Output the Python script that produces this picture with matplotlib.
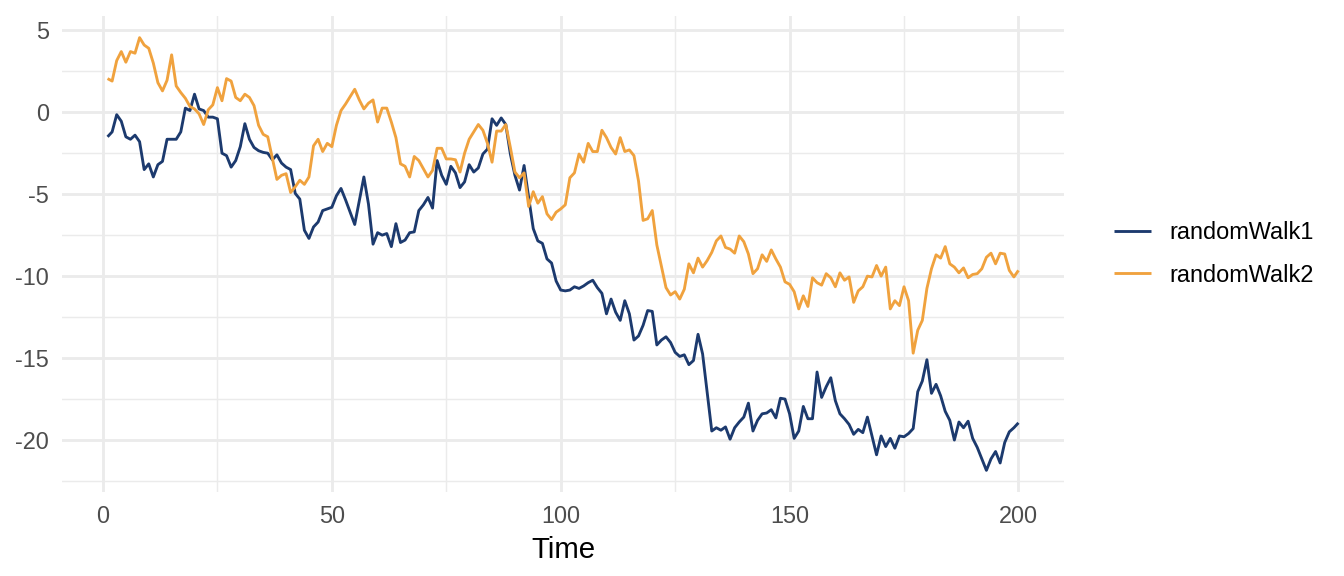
import matplotlib
matplotlib.use("Agg")
import matplotlib.pyplot as plt
from matplotlib.ticker import MultipleLocator
import numpy as np

time = list(range(1, 201))

random_walk1 = [
    -1.5, -1.2, -0.15, -0.55, -1.5, -1.65, -1.4, -1.8, -3.5, -3.15,
    -3.95, -3.2, -3.0, -1.65, -1.65, -1.65, -1.2, 0.25, 0.1, 1.1,
    0.2, 0.1, -0.3, -0.3, -0.4, -2.5, -2.65, -3.35, -2.95, -2.1,
    -0.7, -1.65, -2.15, -2.35, -2.45, -2.5, -2.9, -2.6, -3.1, -3.35,
    -3.5, -4.95, -5.3, -7.2, -7.7, -7.0, -6.7, -6.0, -5.9, -5.8,
    -5.1, -4.65, -5.35, -6.1, -6.85, -5.4, -3.95, -5.6, -8.05, -7.35,
    -7.5, -7.4, -8.2, -6.8, -7.95, -7.8, -7.35, -7.3, -6.0, -5.65,
    -5.2, -5.85, -2.95, -3.85, -4.4, -3.3, -3.7, -4.6, -4.25, -3.2,
    -3.65, -3.4, -2.55, -2.25, -0.4, -0.8, -0.35, -0.75, -2.55, -3.85,
    -4.75, -3.25, -5.2, -7.1, -7.85, -8.0, -8.95, -9.2, -10.3, -10.85,
    -10.9, -10.85, -10.65, -10.75, -10.6, -10.4, -10.25, -10.7, -11.05, -12.3,
    -11.4, -12.2, -12.7, -11.5, -12.3, -13.9, -13.65, -13.0, -12.1, -12.15,
    -14.2, -13.9, -13.7, -14.05, -14.65, -14.9, -14.8, -15.4, -15.15, -13.55,
    -14.75, -17.1, -19.45, -19.25, -19.4, -19.2, -19.95, -19.25, -18.9, -18.6,
    -17.75, -19.45, -18.8, -18.4, -18.35, -18.15, -18.65, -17.45, -17.5, -18.4,
    -19.9, -19.45, -17.95, -18.7, -18.7, -15.85, -17.4, -16.75, -16.2, -17.6,
    -18.4, -18.7, -19.05, -19.65, -19.35, -19.55, -18.6, -19.75, -20.9, -19.75,
    -20.4, -19.9, -20.5, -19.75, -19.8, -19.6, -19.3, -17.05, -16.4, -15.1,
    -17.15, -16.6, -17.3, -18.25, -18.8, -20.0, -18.9, -19.25, -18.85, -19.9,
    -20.45, -21.15, -21.85, -21.15, -20.7, -21.4, -20.15, -19.5, -19.25, -18.95,
]

random_walk2 = [
    2.05, 1.9, 3.15, 3.7, 3.05, 3.7, 3.6, 4.55, 4.1, 3.9,
    3.0, 1.8, 1.3, 1.95, 3.5, 1.6, 1.2, 0.85, 0.35, 0.2,
    -0.1, -0.75, 0.15, 0.45, 1.5, 0.7, 2.05, 1.9, 0.9, 0.7,
    1.1, 0.9, 0.4, -0.8, -1.35, -1.5, -2.8, -4.1, -3.85, -3.75,
    -4.9, -4.55, -4.15, -4.4, -3.95, -2.05, -1.65, -2.4, -1.9, -2.1,
    -0.8, 0.1, 0.5, 0.95, 1.4, 0.75, 0.2, 0.55, 0.75, -0.6,
    0.25, 0.25, -0.6, -1.55, -3.15, -3.3, -3.95, -2.7, -2.95, -3.45,
    -3.95, -3.55, -2.2, -2.2, -2.85, -2.85, -2.9, -3.65, -2.5, -1.65,
    -1.2, -0.75, -1.1, -1.9, -3.05, -1.15, -1.15, -0.75, -2.15, -3.65,
    -4.0, -3.7, -5.75, -4.85, -5.55, -5.15, -6.2, -6.55, -6.1, -5.9,
    -5.65, -4.0, -3.7, -2.55, -3.05, -1.9, -2.4, -2.4, -1.1, -1.55,
    -2.15, -2.55, -1.55, -2.4, -2.3, -2.65, -4.2, -6.6, -6.5, -6.0,
    -8.1, -9.4, -10.7, -11.15, -10.95, -11.4, -10.8, -9.25, -9.8, -8.9,
    -9.45, -9.05, -8.55, -7.85, -7.55, -8.25, -8.35, -8.6, -7.55, -7.9,
    -8.65, -9.85, -9.55, -8.7, -9.1, -8.4, -8.95, -9.45, -10.35, -10.5,
    -10.95, -12.0, -11.2, -11.85, -10.1, -10.4, -10.55, -9.85, -10.1, -10.65,
    -9.8, -10.25, -10.05, -11.6, -10.9, -10.65, -10.0, -10.05, -9.35, -10.0,
    -9.45, -12.0, -11.5, -11.8, -10.65, -11.5, -14.7, -13.3, -12.7, -10.75,
    -9.55, -8.7, -8.9, -8.2, -9.25, -9.45, -9.8, -9.5, -10.1, -9.9,
    -9.85, -9.55, -8.85, -8.6, -9.25, -8.6, -8.65, -9.65, -10.05, -9.65,
]

series_names = ["randomWalk1", "randomWalk2"]
series_colors = ["#1C3A6E", "#F0A23E"]
x_ticks = [0, 50, 100, 150, 200]
y_ticks = [5, 0, -5, -10, -15, -20]
x_label = "Time"

plt.rcParams["font.family"] = ["Liberation Sans", "DejaVu Sans"]
plt.rcParams["axes.unicode_minus"] = False

fig = plt.figure(figsize=(7, 3), dpi=192)
W, H = 1344, 576
left, right, top, bottom = 62, 1064, 16, 492
ax = fig.add_axes([left / W, 1 - bottom / H, (right - left) / W, (bottom - top) / H])

lw = 1.07
for vals, name, col in zip([random_walk1, random_walk2], series_names, series_colors):
    ax.plot(time, vals, color=col, lw=lw, label=name, solid_joinstyle="round", solid_capstyle="butt")

# ggplot-like 5% expansion
xmin, xmax = min(time), max(time)
xr = xmax - xmin
ax.set_xlim(xmin - 0.05 * xr, xmax + 0.05 * xr)
allv = random_walk1 + random_walk2
ymin, ymax = min(allv), max(allv)
yr = ymax - ymin
ax.set_ylim(ymin - 0.05 * yr, ymax + 0.05 * yr)

ax.set_xticks(x_ticks)
ax.set_yticks(y_ticks)
ax.xaxis.set_minor_locator(MultipleLocator(25))
ax.yaxis.set_minor_locator(MultipleLocator(2.5))

grid_col = "#EBEBEB"
ax.grid(which="major", color=grid_col, lw=1.07)
ax.grid(which="minor", color=grid_col, lw=0.53)
ax.set_axisbelow(True)

for s in ax.spines.values():
    s.set_visible(False)

ax.tick_params(which="both", length=0)
ax.tick_params(axis="x", which="major", pad=5, labelsize=8.8, labelcolor="#4D4D4D")
ax.tick_params(axis="y", which="major", pad=5, labelsize=8.8, labelcolor="#4D4D4D")

ax.set_xlabel(x_label, fontsize=11, color="black", labelpad=3)

leg = ax.legend(
    loc="center left",
    bbox_to_anchor=(1114 / W, 1 - 253.7 / H),
    bbox_transform=fig.transFigure,
    frameon=False,
    fontsize=8.8,
    handlelength=1.57,
    handletextpad=0.8,
    labelspacing=0.85,
    borderpad=0,
    borderaxespad=0,
)
for t in leg.get_texts():
    t.set_color("black")

fig.savefig("out.png", dpi=192)
